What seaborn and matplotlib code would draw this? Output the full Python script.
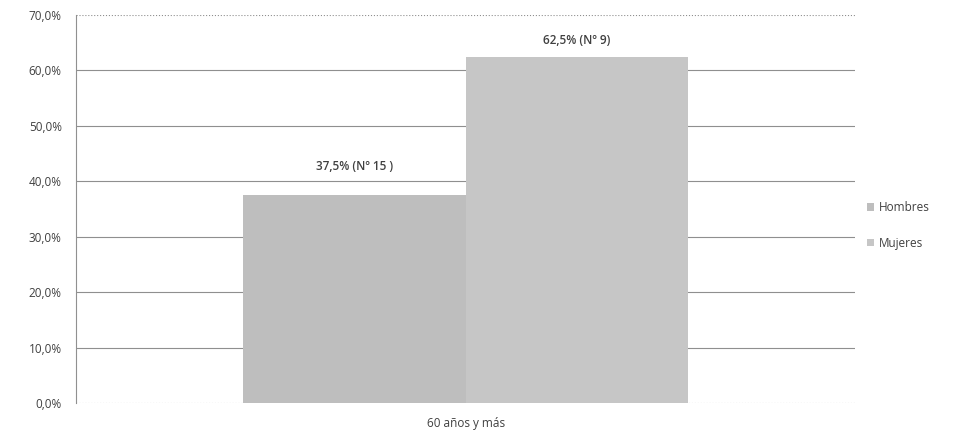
import matplotlib
matplotlib.use("Agg")
import matplotlib.pyplot as plt
import seaborn as sns
import pandas as pd
from matplotlib.patches import Patch

# data
category = ["60 años y más"]
sexes = ["Hombres", "Mujeres"]
percent = [37.5, 62.5]
counts = [15, 9]
bar_labels = ["37,5% (Nº 15 )", "62,5% (Nº 9)"]
y_ticks = [0, 10, 20, 30, 40, 50, 60, 70]

df = pd.DataFrame({"Edad": category * 2, "Sexo": sexes, "Porcentaje": percent})

sns.set_theme(style="white")
plt.rcParams["font.family"] = ["Open Sans", "DejaVu Sans"]

colors = {"Hombres": "#bebebe", "Mujeres": "#c6c6c6"}
text_col = "#404040"

fig = plt.figure(figsize=(9.71, 4.42), dpi=100)
ax = fig.add_axes([0.078, 0.088, 0.803, 0.878])

sns.barplot(data=df, x="Edad", y="Porcentaje", hue="Sexo", palette=colors,
            width=0.571, ax=ax, legend=False, saturation=1, linewidth=0)

ax.set_ylim(0, 70)
ax.set_xlim(-0.5, 0.5)
ax.set_yticks(y_ticks)
ax.set_yticklabels([f"{v:.1f}%".replace(".", ",") for v in y_ticks],
                   fontsize=8.5, color=text_col)
ax.tick_params(axis="y", length=4, color="#909090", pad=6)
ax.tick_params(axis="x", length=0, labelsize=8.5, labelcolor=text_col, pad=10)
ax.set_xlabel("")
ax.set_ylabel("")

for v in y_ticks:
    ax.axhline(v, color="#8f8f8f", lw=0.8, zorder=0,
               ls=":" if v in (0, 70) else "-")

for s in ["top", "right", "bottom"]:
    ax.spines[s].set_visible(False)
ax.spines["left"].set_color("#909090")
ax.spines["left"].set_linewidth(0.8)

offsets = [4.0, 1.8]
for p, lab, off in zip(ax.patches, bar_labels, offsets):
    ax.text(p.get_x() + p.get_width() / 2, p.get_height() + off, lab,
            ha="center", va="bottom", fontsize=8.5, color=text_col,
            fontweight="semibold")

handles = [Patch(facecolor=colors[s], edgecolor="none") for s in sexes]
fig.legend(handles, sexes, loc="center left", bbox_to_anchor=(0.882, 0.49),
           frameon=False, fontsize=8.5, handlelength=0.6, handleheight=0.6,
           handletextpad=0.4, labelspacing=1.9, labelcolor=text_col)

fig.savefig("out.png", dpi=100, facecolor="white")
